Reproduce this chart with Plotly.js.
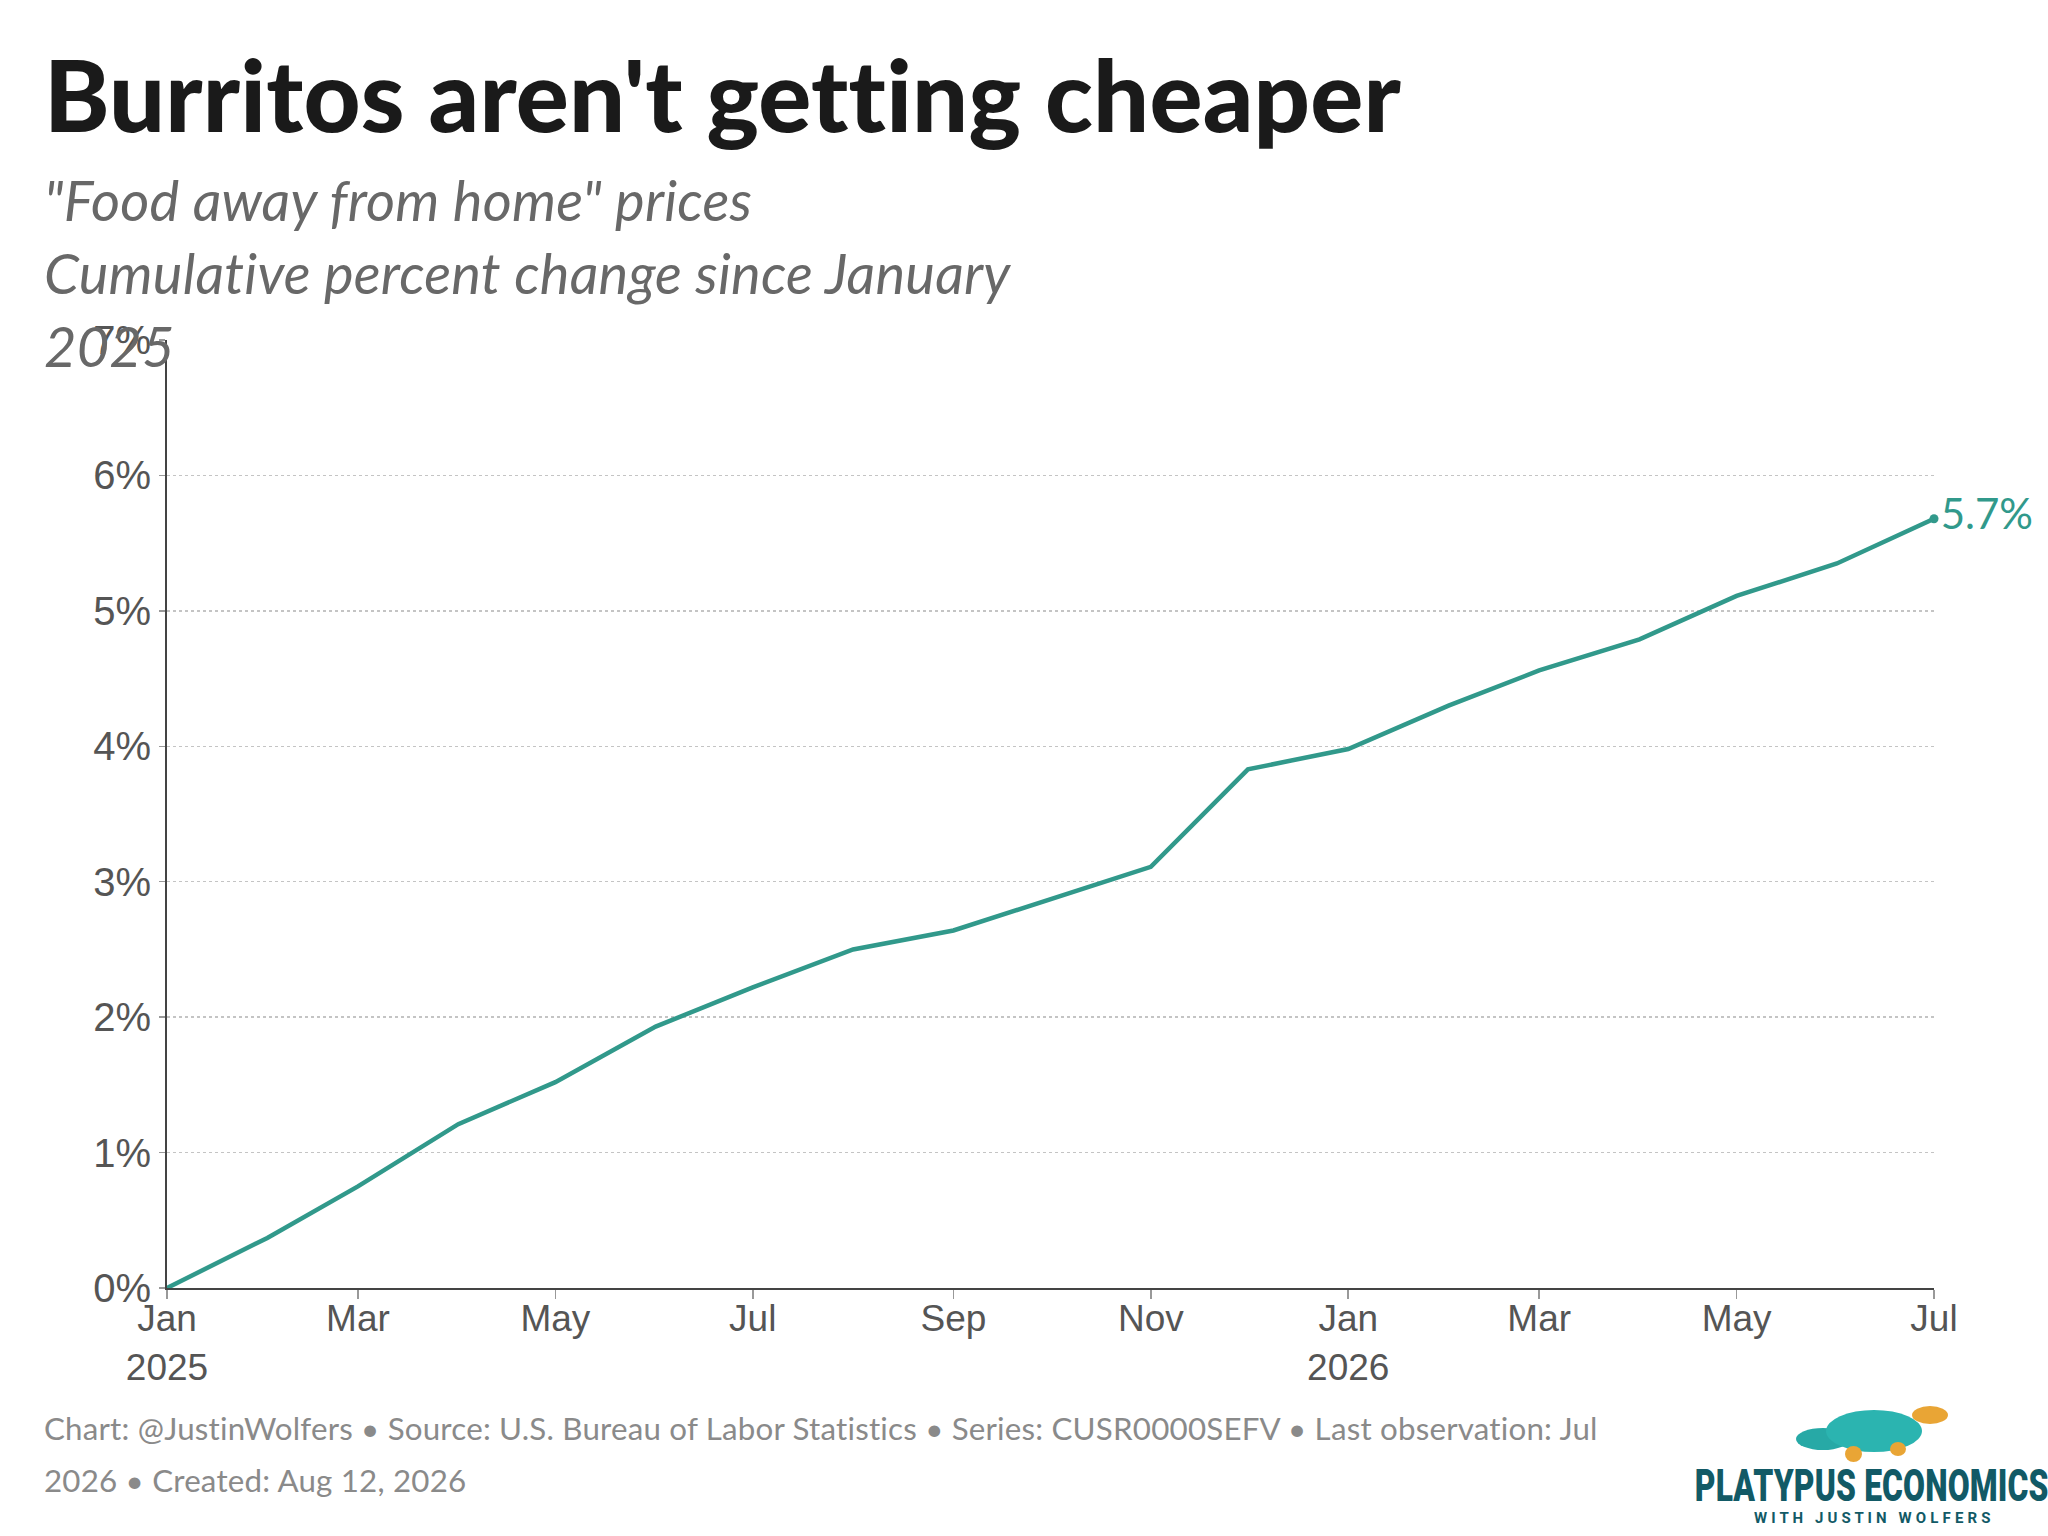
<!DOCTYPE html>
<html>
<head>
<meta charset="utf-8">
<script src="https://cdn.plot.ly/plotly-3.0.1.min.js"></script>
<style>
  html, body { margin: 0; padding: 0; background: #ffffff; }
  #chart { width: 2048px; height: 1536px; }
  svg text { font-variant-ligatures: none !important; font-feature-settings: "liga" 0, "clig" 0 !important; }
  svg text.annotation-text { letter-spacing: 0.2px; }
</style>
</head>
<body>
<div id="chart"></div>
<script>
// ---- Data ----
const months = [
  "2025-01-01","2025-02-01","2025-03-01","2025-04-01","2025-05-01","2025-06-01",
  "2025-07-01","2025-08-01","2025-09-01","2025-10-01","2025-11-01","2025-12-01",
  "2026-01-01","2026-02-01","2026-03-01","2026-04-01","2026-05-01","2026-06-01",
  "2026-07-01"
];
const cumulativeChange = [
  0.00, 0.37, 0.75, 1.21, 1.52, 1.93,
  2.22, 2.50, 2.64, 2.87, 3.11, 3.83,
  3.98, 4.30, 4.56, 4.79, 5.11, 5.35,
  5.68
];
const xTickValues = ["2025-01-01","2025-03-01","2025-05-01","2025-07-01","2025-09-01","2025-11-01",
                     "2026-01-01","2026-03-01","2026-05-01","2026-07-01"];
const xTickLabels = ["Jan<br>2025","Mar","May","Jul","Sep","Nov","Jan<br>2026","Mar","May","Jul"];
const yTickValues = [0,1,2,3,4,5,6,7];
const yTickLabels = ["0%","1%","2%","3%","4%","5%","6%","7%"];

const titleText = "Burritos aren't getting cheaper";
const subtitleText = "\"Food away from home\" prices<br>Cumulative percent change since January<br>2025";
const captionLine1 = "Chart: @JustinWolfers \u2022 Source: U.S. Bureau of Labor Statistics \u2022 Series: CUSR0000SEFV \u2022 Last observation: Jul";
const captionLine2 = "2026 \u2022 Created: Aug 12, 2026";
const logoText = "PLATYPUS ECONOMICS";
const logoSubText = "W I T H   J U S T I N   W O L F E R S";

// ---- Layout geometry (pixels) ----
const W = 2048, H = 1536;
const M = { l: 167, r: 114, t: 340, b: 248 };
const PW = W - M.l - M.r, PH = H - M.t - M.b;
const px = x => (x - M.l) / PW;          // pixel x -> paper x
const py = y => (H - M.b - y) / PH;      // pixel y -> paper y

const teal = "#31998b";
const lastIdx = months.length - 1;

const traces = [
  {
    x: months, y: cumulativeChange, type: "scatter", mode: "lines",
    line: { color: teal, width: 4.5 }, hoverinfo: "skip", showlegend: false
  },
  {
    x: [months[lastIdx]], y: [cumulativeChange[lastIdx]], type: "scatter", mode: "markers+text",
    marker: { color: teal, size: 9 },
    text: [cumulativeChange[lastIdx].toFixed(1) + "%"],
    textposition: "middle right",
    textfont: { family: "Lato", size: 42, color: teal },
    cliponaxis: false, hoverinfo: "skip", showlegend: false
  }
];

const layout = {
  width: W, height: H,
  margin: M,
  paper_bgcolor: "#ffffff", plot_bgcolor: "#ffffff",
  showlegend: false,
  xaxis: {
    type: "date",
    range: ["2025-01-01", "2026-07-01"],
    tickmode: "array", tickvals: xTickValues, ticktext: xTickLabels,
    tickfont: { family: "Liberation Sans, Arial", size: 37, color: "#555555" },
    ticks: "outside", ticklen: 9, tickwidth: 1.5, tickcolor: "#999999",
    ticklabelstandoff: -12,
    showline: true, linecolor: "#444444", linewidth: 2,
    showgrid: false, zeroline: false, fixedrange: true
  },
  yaxis: {
    range: [0, 7],
    tickmode: "array", tickvals: yTickValues, ticktext: yTickLabels,
    tickfont: { family: "Liberation Sans, Arial", size: 40, color: "#555555" },
    ticks: "outside", ticklen: 6, tickwidth: 1.5, tickcolor: "#999999",
    showline: true, linecolor: "#444444", linewidth: 2,
    showgrid: true, gridcolor: "#c4c4c4", gridwidth: 1.5, griddash: "dot",
    zeroline: false, fixedrange: true
  },
  annotations: [
    {
      text: titleText, xref: "paper", yref: "paper",
      x: px(42), y: py(94), xanchor: "left", yanchor: "middle", showarrow: false,
      font: { family: "Lato", size: 99, color: "#1a1a1a", weight: 900 }
    },
    {
      text: subtitleText, xref: "paper", yref: "paper", align: "left",
      x: px(42), y: py(273), xanchor: "left", yanchor: "middle", showarrow: false,
      font: { family: "Lato", size: 56, color: "#686868", style: "italic", weight: 400 }
    },
    {
      text: captionLine1, xref: "paper", yref: "paper", align: "left",
      x: px(42), y: py(1428), xanchor: "left", yanchor: "middle", showarrow: false,
      font: { family: "Lato", size: 31.3, color: "#8a8a8a" }
    },
    {
      text: captionLine2, xref: "paper", yref: "paper", align: "left",
      x: px(42), y: py(1480), xanchor: "left", yanchor: "middle", showarrow: false,
      font: { family: "Lato", size: 31.3, color: "#8a8a8a" }
    },
    {
      text: logoText, xref: "paper", yref: "paper",
      x: px(1871), y: py(1486), xanchor: "center", yanchor: "middle", showarrow: false,
      font: { family: "Roboto", size: 44, color: "#125a66", weight: 900 }
    },
    {
      text: logoSubText, xref: "paper", yref: "paper",
      x: px(1872), y: py(1518), xanchor: "center", yanchor: "middle", showarrow: false,
      font: { family: "Roboto", size: 15, color: "#125a66", weight: 700 }
    }
  ],
  shapes: [
    // small platypus emblem (decoration)
    { type: "circle", xref: "paper", yref: "paper", x0: px(1796), x1: px(1850), y0: py(1450), y1: py(1428),
      fillcolor: "#27a9a6", line: { width: 0 } },
    { type: "circle", xref: "paper", yref: "paper", x0: px(1826), x1: px(1922), y0: py(1452), y1: py(1410),
      fillcolor: "#2bb4b0", line: { width: 0 } },
    { type: "circle", xref: "paper", yref: "paper", x0: px(1912), x1: px(1948), y0: py(1424), y1: py(1406),
      fillcolor: "#e9a535", line: { width: 0 } },
    { type: "circle", xref: "paper", yref: "paper", x0: px(1845), x1: px(1862), y0: py(1462), y1: py(1446),
      fillcolor: "#e9a535", line: { width: 0 } },
    { type: "circle", xref: "paper", yref: "paper", x0: px(1890), x1: px(1906), y0: py(1456), y1: py(1442),
      fillcolor: "#e9a535", line: { width: 0 } }
  ]
};

Plotly.newPlot("chart", traces, layout, { displayModeBar: false, staticPlot: true }).then(() => {
  // condense the logo wordmark horizontally to mimic its narrow typeface
  document.querySelectorAll("#chart text.annotation-text").forEach(t => {
    if (t.textContent === logoText) {
      const bb = t.getBBox();
      const cx = bb.x + bb.width / 2, cy = bb.y + bb.height / 2;
      const sx = 354 / bb.width;
      t.setAttribute("transform", `translate(${cx},${cy}) scale(${sx},1.02) translate(${-cx},${-cy})`);
    }
  });
});
</script>
</body>
</html>
